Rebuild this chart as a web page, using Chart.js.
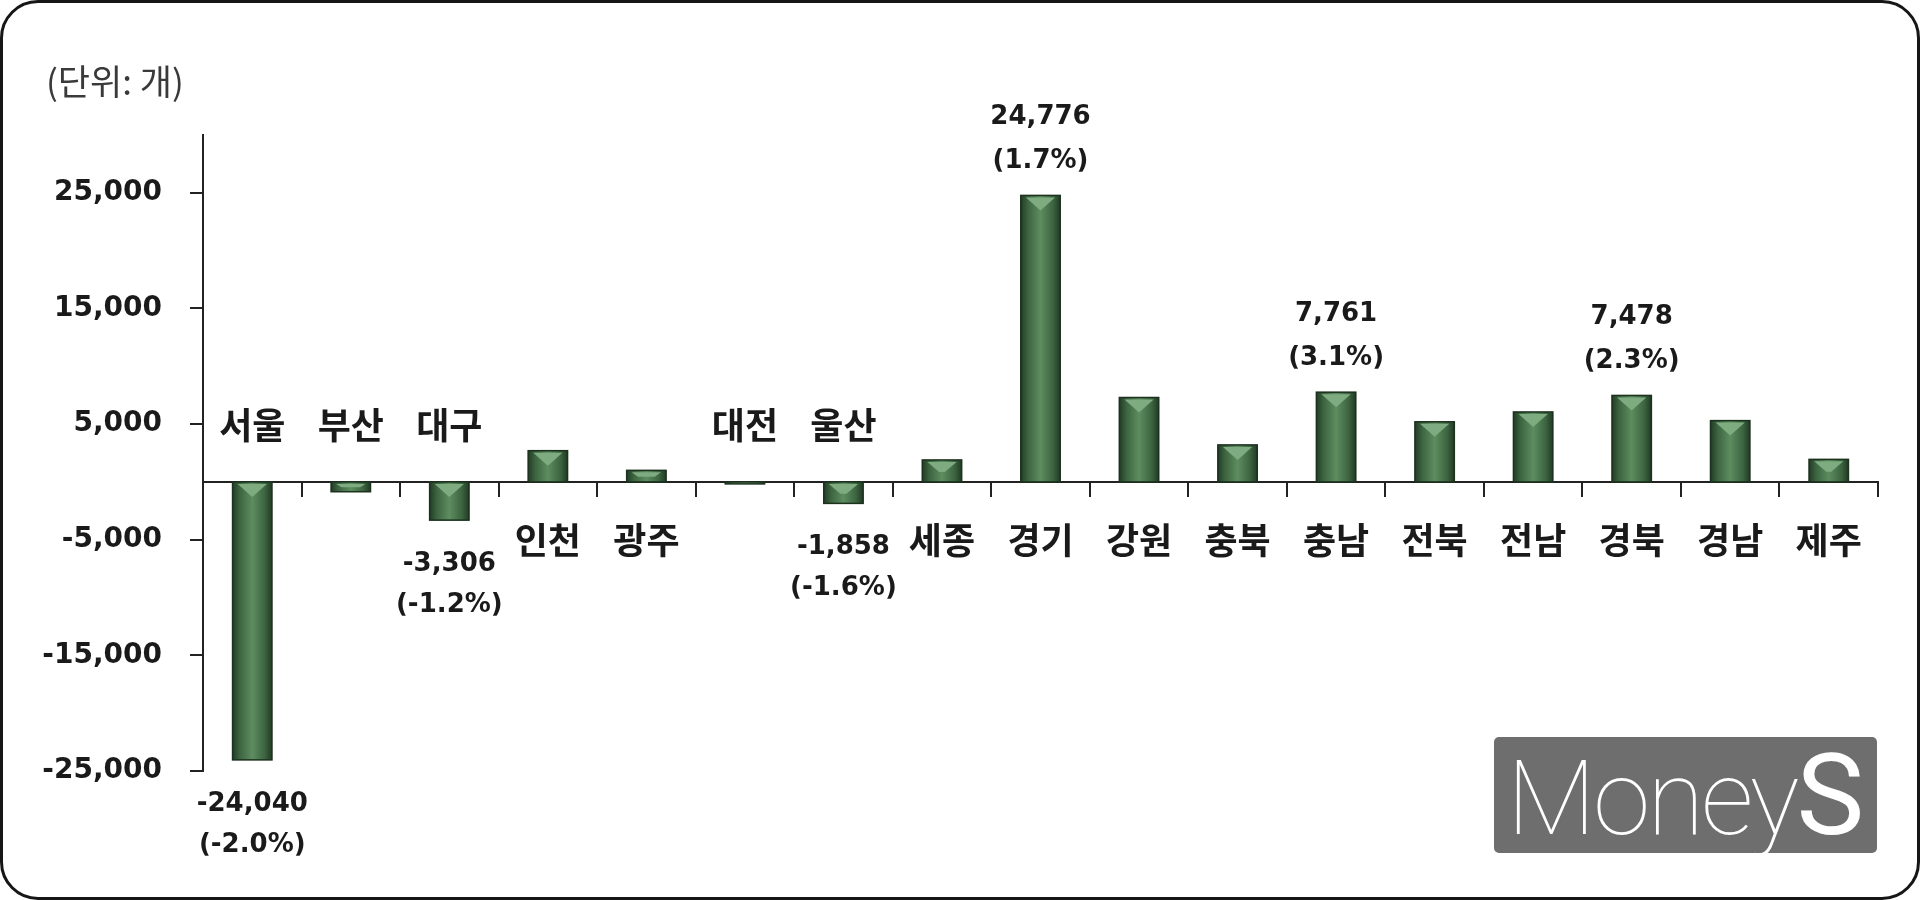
<!DOCTYPE html>
<html>
<head>
<meta charset="utf-8">
<script src="https://cdn.jsdelivr.net/npm/chart.js@4.4.1/dist/chart.umd.min.js"></script>
<style>
	body { margin: 0; background: #fff; }
	#frame { position: absolute; left: 0; top: 0; width: 1920px; height: 900px; box-sizing: border-box; border: 3px solid #161616; border-radius: 38px; }
	#myChart { position: absolute; left: 0; top: 0; }
	#unit { position: absolute; left: 46px; top: 58px; font: 35px "Noto Sans CJK KR"; line-height: 44px; color: #3a3a3a; }
	#logo { position: absolute; left: 1494px; top: 737px; width: 383px; height: 116px; background: #6e6e6e; border-radius: 5px; color: #fff; font-family: Roboto, "Open Sans", sans-serif; font-weight: 100; font-size: 104px; line-height: 116px; letter-spacing: -3px; text-align: center; }
	#logo span { font-weight: 400; font-size: 114px; letter-spacing: 0; }
</style>
</head>
<body>
<div id="frame"></div>
<canvas id="myChart" width="1920" height="900"></canvas>
<div id="unit">(단위: 개)</div>
<div id="logo">Money<span>S</span></div>
<script>
var regions = ['서울', '부산', '대구', '인천', '광주', '대전', '울산', '세종', '경기', '강원', '충북', '충남', '전북', '전남', '경북', '경남', '제주'];
var changes = [-24040, -850, -3306, 2700, 1000, -120, -1858, 1900, 24776, 7300, 3200, 7761, 5200, 6050, 7478, 5300, 1950];
var rates = ['(-2.0%)', '', '(-1.2%)', '', '', '', '(-1.6%)', '', '(1.7%)', '', '', '(3.1%)', '', '', '(2.3%)', '', ''];
var yTicks = [-25000, -15000, -5000, 5000, 15000, 25000];
var yMin = -25000;
var yMax = 30000;

// green bars with the little bevel on top
var barLook = {
	id: 'barLook',
	afterDatasetsDraw: function(chart) {
		var ctx = chart.ctx;
		var meta = chart.getDatasetMeta(0);
		meta.data.forEach(function(bar) {
			var half = bar.width / 2;
			var left = bar.x - half;
			var right = bar.x + half;
			var top = Math.min(bar.y, bar.base);
			var h = Math.max(Math.abs(bar.base - bar.y), 2);
			ctx.save();
			var g = ctx.createLinearGradient(left, 0, right, 0);
			g.addColorStop(0, '#223c25');
			g.addColorStop(0.18, '#3c6440');
			g.addColorStop(0.5, '#5e8d60');
			g.addColorStop(0.82, '#3c6440');
			g.addColorStop(1, '#213a24');
			ctx.fillStyle = g;
			ctx.fillRect(left, top, bar.width, h);
			var full = bar.width * 0.38;
			var depth = Math.min(full, h * 0.55);
			var inset = bar.width * 0.13;
			var spread = (half - inset) * (1 - depth / full);
			ctx.beginPath();
			ctx.moveTo(left + inset, top + 2);
			ctx.lineTo(right - inset, top + 2);
			ctx.lineTo(bar.x + spread, top + depth);
			ctx.lineTo(bar.x - spread, top + depth);
			ctx.closePath();
			ctx.fillStyle = '#7eab80';
			ctx.fill();
			ctx.strokeStyle = '#1c311e';
			ctx.lineWidth = 1.5;
			ctx.strokeRect(left, top, bar.width, h);
			ctx.restore();
		});
	}
};

// region names sit on the side opposite to the bar, values + rates at the bar end
var barText = {
	id: 'barText',
	afterDraw: function(chart) {
		var ctx = chart.ctx;
		var xs = chart.scales.x;
		var ys = chart.scales.y;
		var zero = ys.getPixelForValue(0);
		ctx.save();
		ctx.textAlign = 'center';
		ctx.textBaseline = 'middle';
		ctx.fillStyle = '#1a1a1a';
		regions.forEach(function(name, i) {
			var px = xs.getPixelForValue(i);
			ctx.font = 'bold 36px "Noto Sans CJK KR"';
			ctx.fillText(name, px, changes[i] < 0 ? zero - 57 : zero + 58);
			if (rates[i]) {
				var end = ys.getPixelForValue(changes[i]);
				var num = changes[i].toLocaleString('en-US');
				ctx.font = 'bold 26px "DejaVu Sans"';
				if (changes[i] > 0) {
					ctx.fillText(num, px, end - 78);
					ctx.fillText(rates[i], px, end - 34);
				} else {
					ctx.fillText(num, px, end + 44);
					ctx.fillText(rates[i], px, end + 85);
				}
			}
		});
		ctx.restore();
	}
};

var ctx = document.getElementById('myChart');

var myChart = new Chart(ctx, {
	type: 'bar',
	data: {
		labels: regions,
		datasets: [
			{
				label: '증감',
				data: changes,
				backgroundColor: '#4a774c',
				borderWidth: 0,
				barPercentage: 0.4,
				categoryPercentage: 1
			}
		]
	},
	options: {
		responsive: false,
		animation: false,
		devicePixelRatio: 1,
		layout: { padding: { top: 135, right: 42, bottom: 129, left: 0 } },
		plugins: {
			legend: { display: false },
			tooltip: { enabled: false }
		},
		scales: {
			x: {
				position: { y: 0 },
				grid: { offset: true, drawOnChartArea: false, drawTicks: true, tickLength: 14, color: '#222', lineWidth: 2 },
				border: { display: true, color: '#222', width: 2 },
				ticks: { display: false }
			},
			y: {
				min: yMin,
				max: yMax,
				afterBuildTicks: function(scale) {
					scale.ticks = yTicks.map(function(v) { return { value: v }; });
				},
				afterFit: function(scale) {
					scale.width = 203;
				},
				grid: { drawOnChartArea: false, drawTicks: true, tickLength: 13, color: '#222', lineWidth: 2 },
				border: { display: true, color: '#222', width: 2 },
				ticks: {
					color: '#1a1a1a',
					padding: 28,
					font: { family: 'DejaVu Sans', size: 28, weight: 'bold' },
					callback: function(v) { return v.toLocaleString('en-US'); }
				}
			}
		}
	},
	plugins: [barLook, barText]
});
</script>
</body>
</html>
